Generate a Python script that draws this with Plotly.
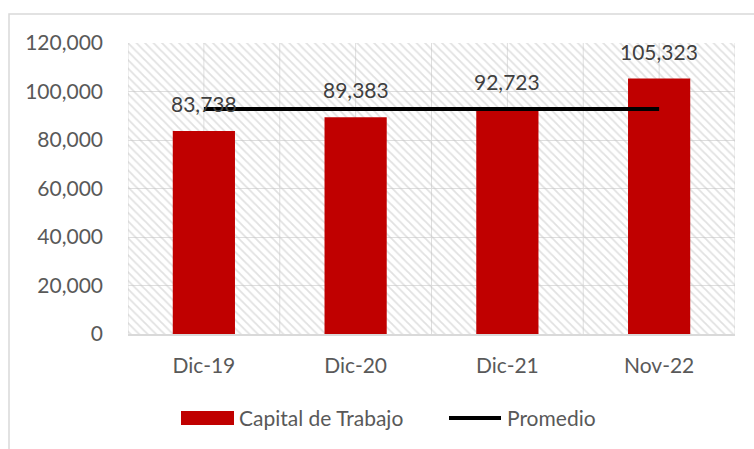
import plotly.graph_objects as go

categories = ["Dic-19", "Dic-20", "Dic-21", "Nov-22"]
capital = [83738, 89383, 92723, 105323]
promedio_val = sum(capital) / len(capital)
promedio = [promedio_val] * len(categories)
y_ticks = [0, 20000, 40000, 60000, 80000, 100000, 120000]
legend_names = ["Capital de Trabajo", "Promedio"]

FONT = "Lato"
FS = 21
W, H = 754, 449
L, R, T, B = 128, W - 735, 43, H - 334
PW, PH = W - L - R, H - T - B


def px(x):
    return (x - L) / PW


def py(y):
    return (H - B - y) / PH


fig = go.Figure()

# hatched plot background (pattern bar on the base axis, data on an overlay axis)
fig.add_trace(go.Bar(
    x=[0.5], y=[y_ticks[-1]], width=[1], xaxis="x", yaxis="y",
    marker=dict(color="rgba(0,0,0,0)", line=dict(width=0),
                pattern=dict(shape="\\", fgcolor="#c4c4c4", bgcolor="rgba(0,0,0,0)",
                             size=6, solidity=0.3)),
    showlegend=False, hoverinfo="skip",
))

fig.add_trace(go.Bar(
    x=categories, y=capital, name=legend_names[0], xaxis="x2",
    marker=dict(color="#C00000", line=dict(width=0)), width=0.41,
    showlegend=False,
))
fig.add_trace(go.Scatter(
    x=categories, y=promedio, name=legend_names[1], mode="lines", xaxis="x2",
    line=dict(color="#000000", width=4), showlegend=False,
))

for c, v in zip(categories, capital):
    fig.add_annotation(x=c, y=v, xref="x2", yref="y", text=f"{v:,}", showarrow=False,
                       yanchor="bottom", yshift=13,
                       font=dict(family=FONT, size=FS, color="#404040"))

fig.update_layout(
    width=W, height=H,
    margin=dict(l=L, r=R, t=T, b=B),
    paper_bgcolor="white", plot_bgcolor="white",
    barmode="overlay",
    font=dict(family=FONT, size=FS, color="#595959"),
    xaxis=dict(range=[0, 1], visible=False, showgrid=False, zeroline=False),
    xaxis2=dict(
        overlaying="x", side="bottom",
        type="category", categoryorder="array", categoryarray=categories,
        range=[-0.5, 3.5], showgrid=False, showline=True, linecolor="#d9d9d9",
        linewidth=1.5, ticks="", ticklabelstandoff=12,
        tickfont=dict(family=FONT, size=FS, color="#595959"),
    ),
    yaxis=dict(
        range=[0, 120000], tickvals=y_ticks, tickformat=",",
        showgrid=True, gridcolor="#dedede", gridwidth=1, zeroline=False,
        ticks="", ticklabelstandoff=24,
        tickfont=dict(family=FONT, size=FS, color="#595959"),
    ),
    showlegend=False,
)

# vertical gridlines at category centers and boundaries
for i in range(len(categories) * 2 + 1):
    xv = -0.5 + i * 0.5
    fig.add_shape(type="line", xref="x2", yref="paper", x0=xv, x1=xv, y0=0, y1=1,
                  line=dict(color="#dedede", width=1), layer="below")

# outer chart border
fig.add_shape(type="rect", xref="paper", yref="paper",
              x0=px(9), x1=px(W + 20), y0=py(H + 20), y1=py(14),
              line=dict(color="#d9d9d9", width=1.5), fillcolor="rgba(0,0,0,0)",
              layer="below")

# legend drawn manually (Excel-style wide swatches)
fig.add_shape(type="rect", xref="paper", yref="paper",
              x0=px(181), x1=px(234), y0=py(425), y1=py(411),
              fillcolor="#C00000", line=dict(width=0))
fig.add_annotation(xref="paper", yref="paper", x=px(237), y=py(418),
                   xanchor="left", yanchor="middle", showarrow=False,
                   text=legend_names[0], font=dict(family=FONT, size=FS, color="#595959"))
fig.add_shape(type="line", xref="paper", yref="paper",
              x0=px(449), x1=px(501), y0=py(418), y1=py(418),
              line=dict(color="#000000", width=4))
fig.add_annotation(xref="paper", yref="paper", x=px(505), y=py(418),
                   xanchor="left", yanchor="middle", showarrow=False,
                   text=legend_names[1], font=dict(family=FONT, size=FS, color="#595959"))

fig.write_html("out.html", config={"displayModeBar": False},
               post_script="document.body.style.margin='0';")
